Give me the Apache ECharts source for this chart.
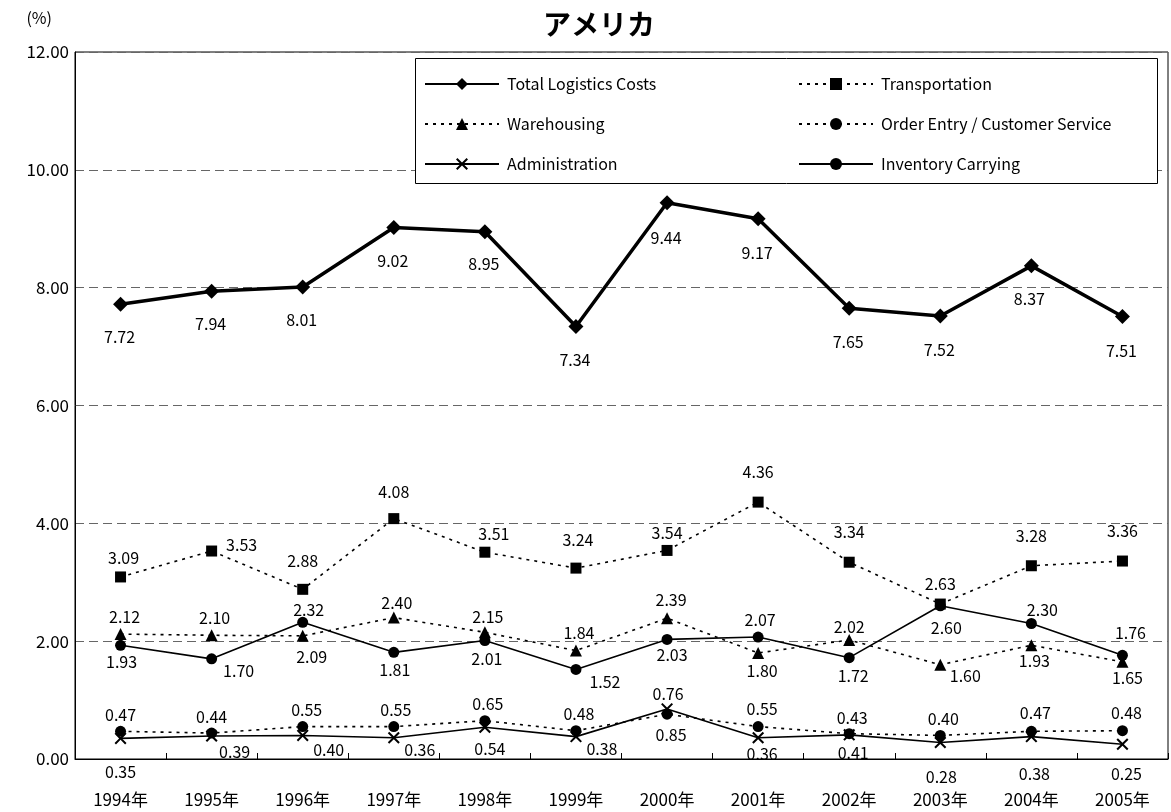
<!DOCTYPE html>
<html>
<head>
<meta charset="utf-8">
<script src="https://cdn.jsdelivr.net/npm/echarts@6/dist/echarts.min.js"></script>
<style>
html,body{margin:0;padding:0;background:#fff;}
#main{width:1171px;height:812px;}
</style>
</head>
<body>
<div id="main"></div>
<script>
var categories = ['1994年','1995年','1996年','1997年','1998年','1999年','2000年','2001年','2002年','2003年','2004年','2005年'];
var totalLogistics = [7.72,7.94,8.01,9.02,8.95,7.34,9.44,9.17,7.65,7.52,8.37,7.51];
var transportation = [3.09,3.53,2.88,4.08,3.51,3.24,3.54,4.36,3.34,2.63,3.28,3.36];
var warehousing = [2.12,2.10,2.09,2.40,2.15,1.84,2.39,1.80,2.02,1.60,1.93,1.65];
var orderEntry = [0.47,0.44,0.55,0.55,0.65,0.48,0.76,0.55,0.43,0.40,0.47,0.48];
var administration = [0.35,0.39,0.40,0.36,0.54,0.38,0.85,0.36,0.41,0.28,0.38,0.25];
var inventory = [1.93,1.70,2.32,1.81,2.01,1.52,2.03,2.07,1.72,2.60,2.30,1.76];
var yTicks = [0,2,4,6,8,10,12];

// label placement (offsets from each point), kept apart from the values
var totalOff = [[-1,33],[-1,33],[-1,33],[-1,33],[-1,32],[-1,33],[-1,35],[-1,34],[-1,34],[-1,34],[-2,33],[-1,34]];
var transOff = [[3,-19],[30,-6],[0,-28],[0,-27],[9,-18],[2,-28],[0,-18],[0,-30],[0,-30],[0,-20],[0,-30],[0,-30]];
var wareOff = [[4,-17],[3,-17],[9,21],[3,-15],[3,-15],[3,-18],[4,-18],[4,18],[0,-13],[25,11],[3,16],[5,16]];
var invOff = [[1,17],[27,12],[6,-12],[1,18],[2,18],[29,12],[5,16],[2,-17],[4,18],[6,22],[11,-14],[8,-22]];
var orderOff = [[0,-16],[0,-16],[4,-17],[2,-17],[3,-17],[3,-17],[1,-20],[4,-18],[3,-16],[3,-17],[4,-18],[4,-18]];
var adminOff = [[0,34],[23,16],[26,14],[26,12],[5,22],[26,12],[4,26],[4,16],[4,18],[1,34],[3,37],[4,30]];

var FONT = '"Noto Sans CJK JP", "Noto Sans", sans-serif';
var xSymbol = 'path://M0,1.2L1.2,0L5,3.8L8.8,0L10,1.2L6.2,5L10,8.8L8.8,10L5,6.2L1.2,10L0,8.8L3.8,5Z';

function withLabels(vals, offs) {
  return vals.map(function (v, i) {
    return { value: v, label: { offset: offs[i] } };
  });
}

function mkSeries(name, vals, offs, symbol, size, lineType, lineWidth) {
  return {
    name: name,
    type: 'line',
    data: withLabels(vals, offs),
    symbol: symbol,
    symbolSize: size,
    itemStyle: { color: '#000', borderWidth: 0 },
    lineStyle: { color: '#000', width: lineWidth, type: lineType },
    label: {
      show: true,
      position: 'inside',
      color: '#000',
      fontSize: 16,
      fontFamily: FONT,
      formatter: function (p) { return p.value.toFixed(2); }
    },
    emphasis: { disabled: true },
    animation: false
  };
}

var chart = echarts.init(document.getElementById('main'));
var legendCommon = {
  orient: 'vertical',
  itemWidth: 74,
  itemHeight: 15,
  itemGap: 24,
  padding: 0,
  selectedMode: false,
  z: 20,
  textStyle: { color: '#000', fontSize: 16, fontFamily: FONT, padding: [0, 0, 0, 3] }
};

chart.setOption({
  backgroundColor: '#fff',
  animation: false,
  title: {
    text: 'アメリカ',
    left: 594,
    textAlign: 'center',
    top: 5,
    textStyle: { fontSize: 28, fontWeight: 'bold', color: '#000', fontFamily: FONT }
  },
  grid: { left: 75, right: 3, top: 52, bottom: 53, show: true, borderColor: '#000', borderWidth: 1, containLabel: false },
  legend: [
    Object.assign({}, legendCommon, { left: 424, top: 76, data: ['Total Logistics Costs', 'Warehousing', 'Administration'] }),
    Object.assign({}, legendCommon, { left: 798, top: 76, data: ['Transportation', 'Order Entry / Customer Service', 'Inventory Carrying'] })
  ],
  graphic: [{
    type: 'rect',
    z: 10,
    shape: { x: 415.5, y: 58.5, width: 742, height: 125 },
    style: { fill: '#fff', stroke: '#000', lineWidth: 1 }
  }],
  xAxis: {
    type: 'category',
    data: categories,
    boundaryGap: true,
    axisLine: { lineStyle: { color: '#000', width: 1 } },
    axisTick: { show: true, inside: true, length: 6, lineStyle: { color: '#000' } },
    axisLabel: { color: '#000', fontSize: 17, fontFamily: FONT, margin: 32, interval: 0 },
    splitLine: { show: false }
  },
  yAxis: {
    type: 'value',
    min: yTicks[0],
    max: yTicks[yTicks.length - 1],
    interval: 2,
    name: '(%)',
    nameLocation: 'end',
    nameGap: 26,
    nameTextStyle: { color: '#000', fontSize: 16, fontFamily: FONT, align: 'right', padding: [0, 23, 0, 0] },
    axisLine: { show: true, lineStyle: { color: '#000', width: 1 } },
    axisTick: { show: false },
    axisLabel: { color: '#000', fontSize: 17, fontFamily: FONT, margin: 6, formatter: function (v) { return v.toFixed(2); } },
    splitLine: { show: true, lineStyle: { color: '#666', type: [9, 5], width: 1 } }
  },
  series: [
    mkSeries('Total Logistics Costs', totalLogistics, totalOff, 'diamond', 15, 'solid', 3.5),
    mkSeries('Transportation', transportation, transOff, 'rect', 11, [3, 5], 1.6),
    mkSeries('Warehousing', warehousing, wareOff, 'triangle', 12, [3, 5], 1.6),
    mkSeries('Order Entry / Customer Service', orderEntry, orderOff, 'circle', 11, [3, 5], 1.6),
    mkSeries('Administration', administration, adminOff, xSymbol, 12, 'solid', 1.6),
    mkSeries('Inventory Carrying', inventory, invOff, 'circle', 11, 'solid', 1.6)
  ]
});
</script>
</body>
</html>
